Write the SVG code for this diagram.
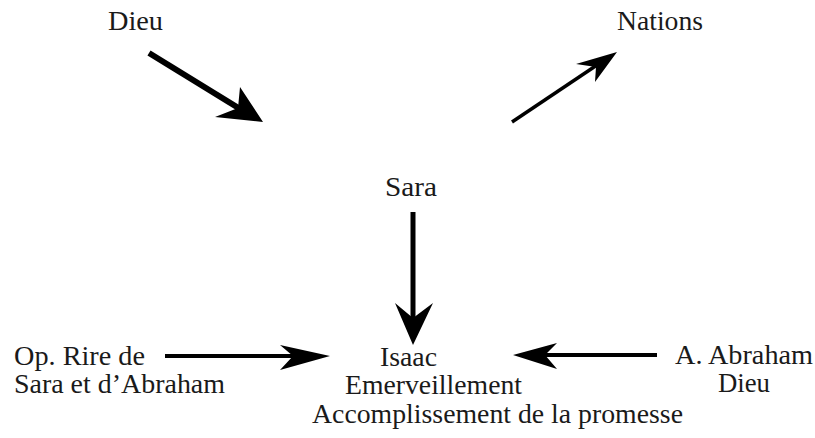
<svg xmlns="http://www.w3.org/2000/svg" width="815" height="438" viewBox="0 0 815 438">
<style>
.ln{stroke:#000;fill:none;stroke-linecap:butt}
.hd{fill:#000;stroke:none}
</style>
<rect width="815" height="438" fill="#fff"/>
<g font-family="Liberation Serif, Times New Roman, serif" font-size="27" fill="#1a1a1a">
<g id="dieu"><text x="108" y="30" textLength="55" lengthAdjust="spacingAndGlyphs">Dieu</text></g>
<g id="nations"><text x="617" y="30" textLength="86" lengthAdjust="spacingAndGlyphs">Nations</text></g>
<g id="sara"><text x="385" y="196" textLength="52" lengthAdjust="spacingAndGlyphs">Sara</text></g>
<g id="opposant"><text x="14" y="365" textLength="131" lengthAdjust="spacingAndGlyphs">Op. Rire de</text><text x="14" y="393" textLength="211" lengthAdjust="spacingAndGlyphs">Sara et d’Abraham</text></g>
<g id="isaac"><text x="380" y="366" textLength="57" lengthAdjust="spacingAndGlyphs">Isaac</text><text x="345" y="394" textLength="177" lengthAdjust="spacingAndGlyphs">Emerveillement</text><text x="312" y="423" textLength="371" lengthAdjust="spacingAndGlyphs">Accomplissement de la promesse</text></g>
<g id="adjuvant"><text x="675" y="364" textLength="138" lengthAdjust="spacingAndGlyphs">A. Abraham</text><text x="718" y="392" textLength="52" lengthAdjust="spacingAndGlyphs">Dieu</text></g>
</g>
<g id="connectors">
<line class="ln" x1="149" y1="53" x2="245" y2="112" stroke-width="6"/>
<path class="hd" d="M263,122 L215,117 L238,108 L240,87 Z"/>
<line class="ln" x1="512" y1="122" x2="603" y2="61" stroke-width="3.5"/>
<path class="hd" d="M617,52 L576,64 L596,67 L595,82 Z"/>
<line class="ln" x1="413" y1="212" x2="413" y2="325" stroke-width="5"/>
<path class="hd" d="M413,345 L395,303 L413,318 L433,303 Z"/>
<line class="ln" x1="165" y1="356" x2="310" y2="356" stroke-width="4"/>
<path class="hd" d="M330,356 L280,345 L293,356 L280,370 Z"/>
<line class="ln" x1="657" y1="355" x2="530" y2="355" stroke-width="4"/>
<path class="hd" d="M513,355 L557,343 L545,355 L557,369 Z"/>
</g>
</svg>
